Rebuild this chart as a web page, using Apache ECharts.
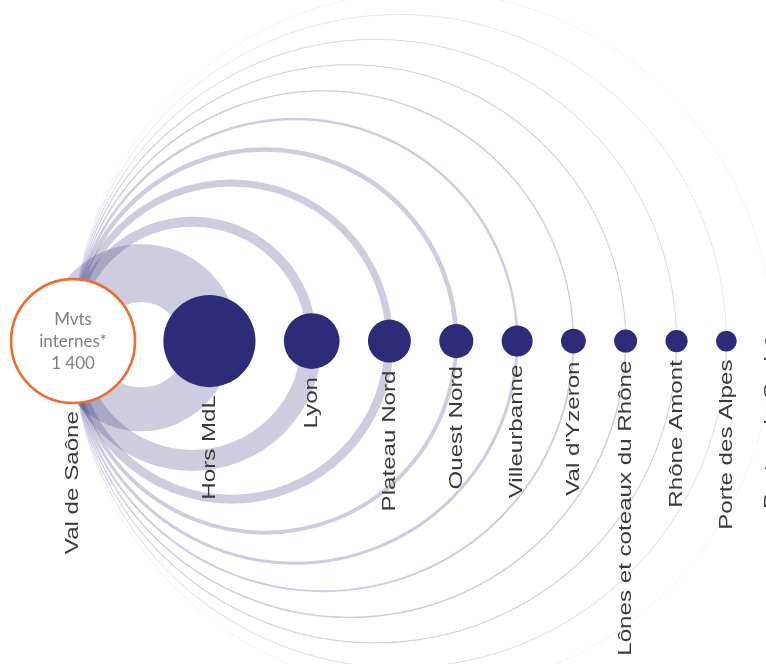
<!DOCTYPE html>
<html>
<head>
<meta charset="utf-8">
<style>
  html, body { margin: 0; padding: 0; background: #ffffff; }
  #chart { width: 766px; height: 664px; }
</style>
<script src="https://cdn.jsdelivr.net/npm/echarts@6/dist/echarts.min.js"></script>
</head>
<body>
<div id="chart"></div>
<script>
// ---- Data ----
const sourceName = 'Val de Saône';
const internalMoves = 1400;            // Mvts internes* of the source sector
const destinations = ['Hors MdL', 'Lyon', 'Plateau Nord', 'Ouest Nord', 'Villeurbanne',
  "Val d'Yzeron", 'Lônes et coteaux du Rhône', 'Rhône Amont', 'Porte des Alpes', 'Portes du Sud'];
// total flows of each destination sector (sets circle size)
const destTotals = [1040, 630, 485, 385, 350, 280, 260, 250, 235, 160];
// flows drawn above the axis (Val de Saône -> sector)
const flowsOut = [655, 113, 79, 51, 28, 16, 12, 9, 6, 3];
// flows drawn below the axis (sector -> Val de Saône)
const flowsIn = [497, 237, 102, 45, 34, 21, 16, 12, 8, 3];

// ---- Layout (arc diagram: nodes side by side, sized by their totals) ----
const NODE_GAP = 320;                  // gap between two circles, in flow units
const allNames = [sourceName].concat(destinations);
const allTotals = [internalMoves].concat(destTotals);
const xPos = [];
allTotals.forEach((t, i) => {
  xPos.push(i === 0 ? 0 : xPos[i - 1] + allTotals[i - 1] / 2 + NODE_GAP + t / 2);
});

const nodeData = allTotals.map((t, i) => [xPos[i], 0, t, i]);
const linkData = [];
destinations.forEach((d, i) => {
  linkData.push([xPos[0], xPos[i + 1], flowsOut[i], 1]);
  linkData.push([xPos[0], xPos[i + 1], flowsIn[i], -1]);
});

function fmt(n) { return String(n).replace(/\B(?=(\d{3})+(?!\d))/g, ' '); }

const NAVY = '#2e2c79';
const LINK = 'rgba(46,44,121,0.24)';

const chart = echarts.init(document.getElementById('chart'), null, { renderer: 'canvas' });
chart.setOption({
  backgroundColor: '#ffffff',
  animation: false,
  grid: { left: 0, right: 0, top: 0, bottom: 0 },
  xAxis: { type: 'value', min: -825, max: 7825, show: false },
  yAxis: { type: 'value', min: -3645, max: 3850, show: false },
  series: [
    {
      type: 'custom',
      z: 1,
      data: linkData,
      renderItem: function (params, api) {
        const p0 = api.coord([api.value(0), 0]);
        const p1 = api.coord([api.value(1), 0]);
        const w = api.size([api.value(2), 0])[0];
        const up = api.value(3) > 0;
        return {
          type: 'arc',
          shape: {
            cx: (p0[0] + p1[0]) / 2, cy: p0[1], r: (p1[0] - p0[0]) / 2,
            startAngle: up ? Math.PI : 0, endAngle: up ? 2 * Math.PI : Math.PI, clockwise: true
          },
          style: { stroke: LINK, lineWidth: w, fill: 'none' }
        };
      }
    },
    {
      type: 'custom',
      z: 2,
      data: nodeData,
      renderItem: function (params, api) {
        const c = api.coord([api.value(0), 0]);
        const r = api.size([api.value(2) / 2, 0])[0];
        const idx = api.value(3);
        const children = [];
        if (idx === 0) {
          children.push({
            type: 'circle', shape: { cx: c[0], cy: c[1], r: r },
            style: { fill: '#ffffff', stroke: '#ef6c2e', lineWidth: 2.6 }
          });
          children.push({
            type: 'text', x: c[0], y: c[1],
            style: {
              text: 'Mvts\ninternes*\n' + fmt(internalMoves),
              fill: '#7f7f7f', fontFamily: 'Lato', fontSize: 17, lineHeight: 22,
              align: 'center', verticalAlign: 'middle'
            }
          });
        } else {
          children.push({
            type: 'circle', shape: { cx: c[0], cy: c[1], r: r },
            style: { fill: NAVY }
          });
        }
        children.push({
          type: 'text', x: c[0], y: c[1] + r + 8, rotation: Math.PI / 2, scaleX: 1.27,
          style: {
            text: allNames[idx], fill: '#3a3a3a',
            fontFamily: 'Liberation Sans, Arial', fontSize: 19,
            align: 'right', verticalAlign: 'middle'
          }
        });
        return { type: 'group', children: children };
      }
    }
  ]
});
</script>
</body>
</html>
